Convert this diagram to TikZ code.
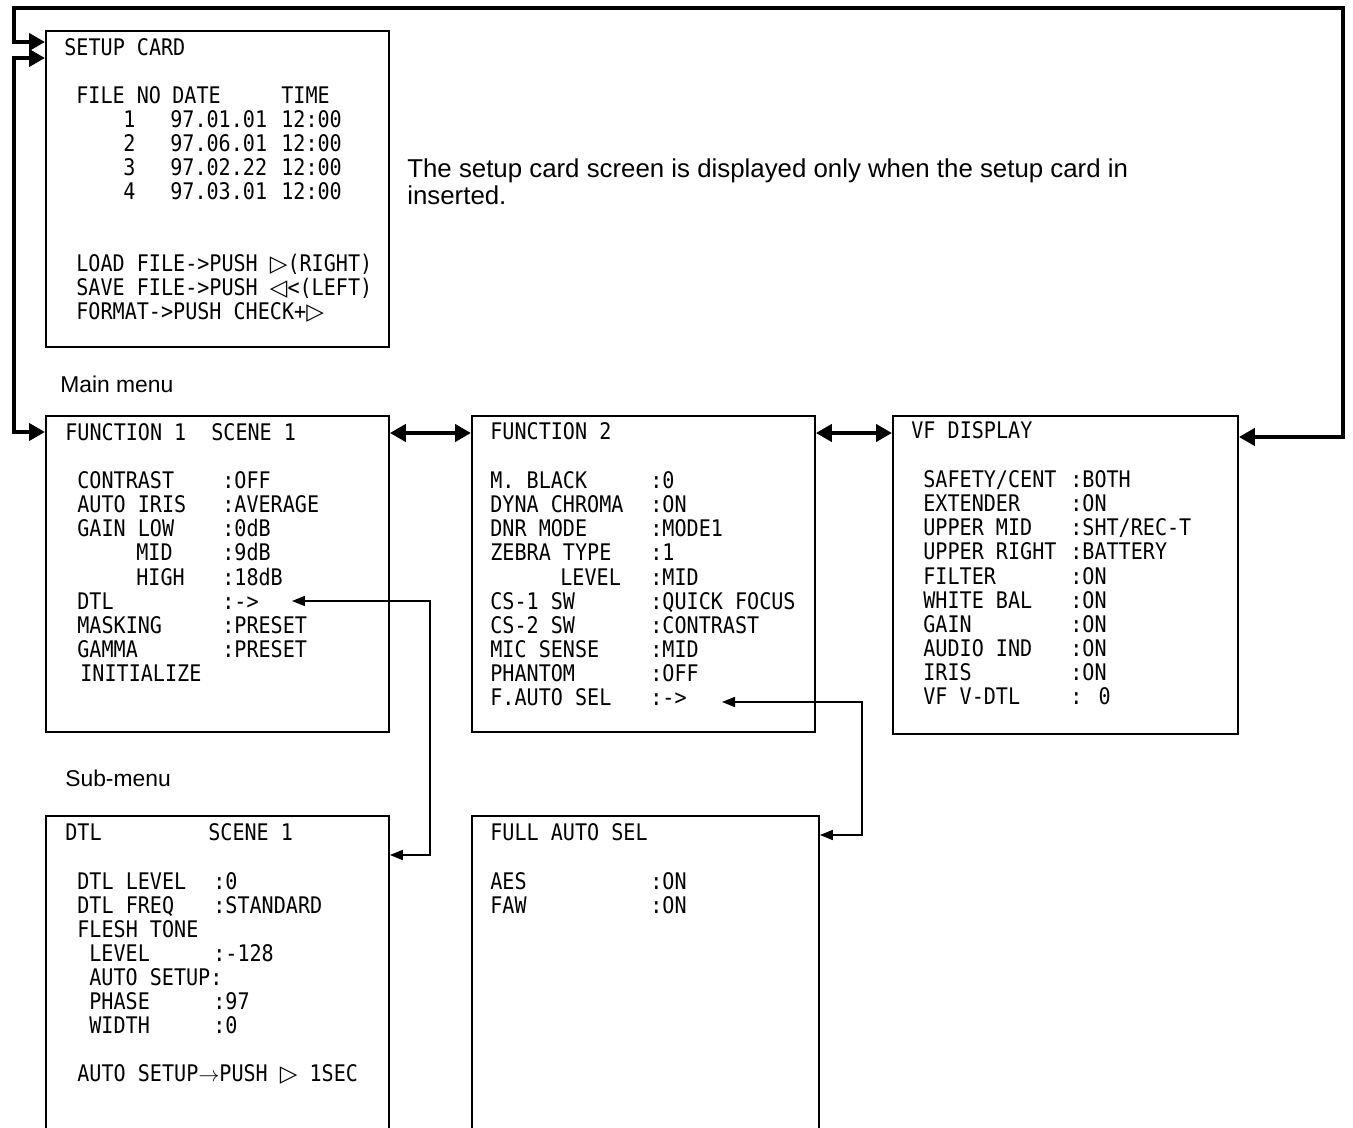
\documentclass[tikz,border=0pt]{standalone}
\usepackage{fontspec}
\setmainfont{Liberation Sans}
\newfontfamily\scrfont[FakeStretch=0.88]{DejaVu Sans Mono}
\newfontfamily\symfont{DejaVu Sans}
\usetikzlibrary{arrows.meta}
\newlength\pxu
\setlength\pxu{0.02cm}
\newcommand\entry[3]{\makebox[#1\pxu][l]{#2}#3}
\newcommand\rtri{{\symfont\bfseries\char"25B7}}
\newcommand\ltri{{\symfont\bfseries\char"25C1}}

\begin{document}
\begin{tikzpicture}[
  x=0.02cm,y=-0.02cm,
  screen/.style={draw,line width=1.1pt,anchor=north west,inner sep=0pt,minimum width=6.86cm,minimum height=6.32cm},
  row/.style={anchor=base west,inner sep=0pt,font=\scrfont\fontsize{13}{15}\selectfont},
  note/.style={anchor=base west,inner sep=0pt,align=left,font=\fontsize{13}{15}\selectfont},
  bus/.style={line width=2.4pt,{Triangle[length=0.32cm,width=0.34cm]}-{Triangle[length=0.32cm,width=0.34cm]}},
  link/.style={line width=0.9pt,{Triangle[length=0.26cm,width=0.2cm]}-{Triangle[length=0.26cm,width=0.2cm]}}
]
  \useasboundingbox (0,0) rectangle (1353,1128);

  % Screens
  \node[screen] (card) at (45,30) {};
  \node[screen] (fone) at (45,415) {};
  \node[screen] (ftwo) at (471,415) {};
  \node[screen,minimum width=6.9cm,minimum height=6.36cm] (vf) at (892,415) {};
  \node[screen,minimum height=6.8cm] (dtl) at (45,815) {};
  \node[screen,minimum width=6.94cm,minimum height=6.8cm] (fas) at (471,815) {};

  % Setup card screen
  \node[row] (card-title) at (64,56) {SETUP CARD};
  \node[row] (card-head) at (76,104) {\entry{96}{FILE NO}{\entry{109}{DATE}{TIME}}};
  \foreach \n/\d [count=\i] in {1/97.01.01,2/97.06.01,3/97.02.22,4/97.03.01}
    \node[row] (card-\i) at (76,104+24*\i) {\entry{94}{\hspace{47\pxu}\n}{\entry{111}{\d}{12:00}}};
  \node[row] (card-load) at (76,272) {LOAD FILE->PUSH \rtri(RIGHT)};
  \node[row] (card-save) at (76,296) {SAVE FILE->PUSH \ltri<(LEFT)};
  \node[row] (card-format) at (76,320) {FORMAT->PUSH CHECK+\rtri};

  \node[note,font=\fontsize{14.7}{15.9}\selectfont] (note) at (407,205) {The setup card screen is displayed only when the setup card in\\inserted.};

  % Main menu
  \node[note] (main-lab) at (60,393) {Main menu};
  \node[row] (fone-title) at (65,441) {\entry{146}{FUNCTION 1}{SCENE 1}};
  \foreach \a/\b [count=\i] in {CONTRAST/:OFF,AUTO IRIS/:AVERAGE,GAIN LOW/:0dB,{\hspace{59\pxu}MID}/:9dB,{\hspace{59\pxu}HIGH}/:18dB,DTL/:->,MASKING/:PRESET,GAMMA/:PRESET,{\hspace{3\pxu}INITIALIZE}/{}}
    \node[row] (fone-\i) at (77,465+24*\i) {\entry{145}{\a}{\b}};

  \node[row] (ftwo-title) at (490,440) {FUNCTION 2};
  \foreach \a/\b [count=\i] in {M. BLACK/:0,DYNA CHROMA/:ON,DNR MODE/:MODE1,ZEBRA TYPE/:1,{\hspace{70\pxu}LEVEL}/:MID,CS-1 SW/:QUICK FOCUS,CS-2 SW/:CONTRAST,MIC SENSE/:MID,PHANTOM/:OFF,F.AUTO SEL/:->}
    \node[row] (ftwo-\i) at (490,465+24*\i) {\entry{160}{\a}{\b}};

  \node[row] (vf-title) at (911,439) {VF DISPLAY};
  \foreach \a/\b [count=\i] in {{SAFETY/CENT}/:BOTH,EXTENDER/:ON,UPPER MID/{:SHT/REC-T},UPPER RIGHT/:BATTERY,FILTER/:ON,WHITE BAL/:ON,GAIN/:ON,AUDIO IND/:ON,IRIS/:ON,VF V-DTL/{: 0}}
    \node[row] (vf-\i) at (923,464+24*\i) {\entry{147}{\a}{\b}};

  % Sub-menu
  \node[note] (sub-lab) at (65,786) {Sub-menu};
  \node[row] (dtl-title) at (65,840) {\entry{143}{DTL}{SCENE 1}};
  \foreach \a/\b [count=\i] in {DTL LEVEL/:0,DTL FREQ/:STANDARD,FLESH TONE/{},{\hspace{12\pxu}LEVEL}/:-128,{\hspace{12\pxu}AUTO SETUP:}/{},{\hspace{12\pxu}PHASE}/:97,{\hspace{12\pxu}WIDTH}/:0}
    \node[row] (dtl-\i) at (77,865+24*\i) {\entry{136}{\a}{\b}};
  \node[row] (dtl-push) at (77,1081) {AUTO SETUP$\rightarrow$PUSH \rtri\ 1SEC};

  \node[row] (fas-title) at (490,840) {FULL AUTO SEL};
  \foreach \a/\b [count=\i] in {AES/:ON,FAW/:ON}
    \node[row] (fas-\i) at (490,865+24*\i) {\entry{160}{\a}{\b}};

  % Pointers
  \coordinate (fone-ptr) at (292,601);
  \coordinate (ftwo-ptr) at (722,702);

  % Connectors
  \draw[bus] (vf.east |- 0,437) -- (1343,437) -- (1343,8) -- (14,8) -- (14,42) -- (card.west |- 0,42);
  \draw[bus] (card.west |- 0,58) -- (14,58) -- (14,432) -- (fone.west |- 0,432);
  \draw[bus] (fone.east |- 0,433) -- (ftwo.west |- 0,433);
  \draw[bus] (ftwo.east |- 0,433) -- (vf.west |- 0,433);
  \draw[link] (fone-ptr) -- (430,601) -- (430,855) -- (dtl.east |- 0,855);
  \draw[link] (ftwo-ptr) -- (862,702) -- (862,835) -- (fas.east |- 0,835);
\end{tikzpicture}
\end{document}
